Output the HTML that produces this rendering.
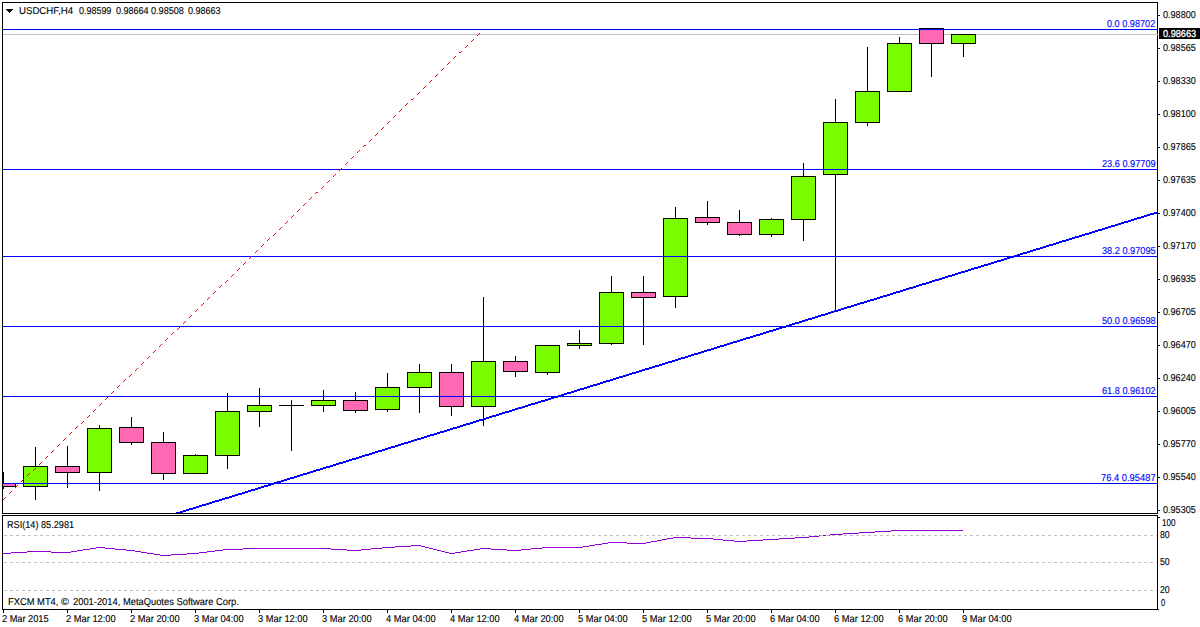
<!DOCTYPE html>
<html><head><meta charset="utf-8"><style>
html,body{margin:0;padding:0;background:#fff;width:1200px;height:627px;overflow:hidden}
body{position:relative;font-family:"Liberation Sans", sans-serif;line-height:1;white-space:pre}
.t{position:absolute;font-size:10px;transform-origin:0 0;text-rendering:geometricPrecision}
div{white-space:pre}
</style></head><body>
<svg width="1200" height="627" viewBox="0 0 1200 627" shape-rendering="crispEdges" style="position:absolute;left:0;top:0">
<defs><clipPath id="mc"><rect x="3" y="3" width="1154" height="510"/></clipPath><clipPath id="rc"><rect x="3" y="516" width="1154" height="93"/></clipPath></defs>
<rect x="2" y="2" width="1156" height="1" fill="#000"/>
<rect x="2" y="2" width="1" height="512" fill="#000"/>
<rect x="2" y="513" width="1156" height="1" fill="#000"/>
<rect x="1157" y="2" width="1" height="512" fill="#000"/>
<rect x="2" y="515" width="1156" height="1" fill="#000"/>
<rect x="2" y="515" width="1" height="95" fill="#000"/>
<rect x="2" y="609" width="1156" height="1" fill="#000"/>
<rect x="1157" y="515" width="1" height="95" fill="#000"/>
<g clip-path="url(#mc)">
<rect x="3" y="34" width="1154" height="1" fill="#C0C0C0"/>
<rect x="3" y="472" width="1" height="17" fill="#000"/>
<rect x="-9" y="483" width="25" height="4" fill="#000"/>
<rect x="-8" y="484" width="23" height="2" fill="#FF69B4"/>
<rect x="35" y="447" width="1" height="53" fill="#000"/>
<rect x="23" y="466" width="25" height="21" fill="#000"/>
<rect x="24" y="467" width="23" height="19" fill="#7CFC00"/>
<rect x="67" y="446" width="1" height="42" fill="#000"/>
<rect x="55" y="466" width="25" height="7" fill="#000"/>
<rect x="56" y="467" width="23" height="5" fill="#FF69B4"/>
<rect x="99" y="425" width="1" height="66" fill="#000"/>
<rect x="87" y="428" width="25" height="45" fill="#000"/>
<rect x="88" y="429" width="23" height="43" fill="#7CFC00"/>
<rect x="131" y="417" width="1" height="28" fill="#000"/>
<rect x="119" y="427" width="25" height="16" fill="#000"/>
<rect x="120" y="428" width="23" height="14" fill="#FF69B4"/>
<rect x="163" y="432" width="1" height="48" fill="#000"/>
<rect x="151" y="442" width="25" height="32" fill="#000"/>
<rect x="152" y="443" width="23" height="30" fill="#FF69B4"/>
<rect x="195" y="454" width="1" height="20" fill="#000"/>
<rect x="183" y="455" width="25" height="19" fill="#000"/>
<rect x="184" y="456" width="23" height="17" fill="#7CFC00"/>
<rect x="227" y="393" width="1" height="76" fill="#000"/>
<rect x="215" y="411" width="25" height="45" fill="#000"/>
<rect x="216" y="412" width="23" height="43" fill="#7CFC00"/>
<rect x="259" y="388" width="1" height="39" fill="#000"/>
<rect x="247" y="405" width="25" height="7" fill="#000"/>
<rect x="248" y="406" width="23" height="5" fill="#7CFC00"/>
<rect x="291" y="400" width="1" height="51" fill="#000"/>
<rect x="279" y="405" width="25" height="1" fill="#000"/>
<rect x="323" y="390" width="1" height="22" fill="#000"/>
<rect x="311" y="400" width="25" height="6" fill="#000"/>
<rect x="312" y="401" width="23" height="4" fill="#7CFC00"/>
<rect x="355" y="392" width="1" height="21" fill="#000"/>
<rect x="343" y="400" width="25" height="11" fill="#000"/>
<rect x="344" y="401" width="23" height="9" fill="#FF69B4"/>
<rect x="387" y="373" width="1" height="39" fill="#000"/>
<rect x="375" y="387" width="25" height="23" fill="#000"/>
<rect x="376" y="388" width="23" height="21" fill="#7CFC00"/>
<rect x="419" y="364" width="1" height="49" fill="#000"/>
<rect x="407" y="372" width="25" height="16" fill="#000"/>
<rect x="408" y="373" width="23" height="14" fill="#7CFC00"/>
<rect x="451" y="364" width="1" height="52" fill="#000"/>
<rect x="439" y="372" width="25" height="35" fill="#000"/>
<rect x="440" y="373" width="23" height="33" fill="#FF69B4"/>
<rect x="483" y="297" width="1" height="129" fill="#000"/>
<rect x="471" y="361" width="25" height="46" fill="#000"/>
<rect x="472" y="362" width="23" height="44" fill="#7CFC00"/>
<rect x="515" y="356" width="1" height="21" fill="#000"/>
<rect x="503" y="361" width="25" height="11" fill="#000"/>
<rect x="504" y="362" width="23" height="9" fill="#FF69B4"/>
<rect x="547" y="345" width="1" height="30" fill="#000"/>
<rect x="535" y="345" width="25" height="28" fill="#000"/>
<rect x="536" y="346" width="23" height="26" fill="#7CFC00"/>
<rect x="579" y="330" width="1" height="19" fill="#000"/>
<rect x="567" y="343" width="25" height="3" fill="#000"/>
<rect x="568" y="344" width="23" height="1" fill="#7CFC00"/>
<rect x="611" y="276" width="1" height="69" fill="#000"/>
<rect x="599" y="292" width="25" height="52" fill="#000"/>
<rect x="600" y="293" width="23" height="50" fill="#7CFC00"/>
<rect x="643" y="276" width="1" height="69" fill="#000"/>
<rect x="631" y="292" width="25" height="6" fill="#000"/>
<rect x="632" y="293" width="23" height="4" fill="#FF69B4"/>
<rect x="675" y="207" width="1" height="101" fill="#000"/>
<rect x="663" y="218" width="25" height="79" fill="#000"/>
<rect x="664" y="219" width="23" height="77" fill="#7CFC00"/>
<rect x="707" y="201" width="1" height="24" fill="#000"/>
<rect x="695" y="217" width="25" height="6" fill="#000"/>
<rect x="696" y="218" width="23" height="4" fill="#FF69B4"/>
<rect x="739" y="210" width="1" height="26" fill="#000"/>
<rect x="727" y="222" width="25" height="13" fill="#000"/>
<rect x="728" y="223" width="23" height="11" fill="#FF69B4"/>
<rect x="771" y="218" width="1" height="19" fill="#000"/>
<rect x="759" y="219" width="25" height="16" fill="#000"/>
<rect x="760" y="220" width="23" height="14" fill="#7CFC00"/>
<rect x="803" y="163" width="1" height="78" fill="#000"/>
<rect x="791" y="176" width="25" height="44" fill="#000"/>
<rect x="792" y="177" width="23" height="42" fill="#7CFC00"/>
<rect x="835" y="99" width="1" height="213" fill="#000"/>
<rect x="823" y="122" width="25" height="53" fill="#000"/>
<rect x="824" y="123" width="23" height="51" fill="#7CFC00"/>
<rect x="867" y="47" width="1" height="79" fill="#000"/>
<rect x="855" y="91" width="25" height="32" fill="#000"/>
<rect x="856" y="92" width="23" height="30" fill="#7CFC00"/>
<rect x="899" y="37" width="1" height="55" fill="#000"/>
<rect x="887" y="43" width="25" height="49" fill="#000"/>
<rect x="888" y="44" width="23" height="47" fill="#7CFC00"/>
<rect x="931" y="28" width="1" height="49" fill="#000"/>
<rect x="919" y="28" width="25" height="16" fill="#000"/>
<rect x="920" y="29" width="23" height="14" fill="#FF69B4"/>
<rect x="963" y="34" width="1" height="23" fill="#000"/>
<rect x="951" y="34" width="25" height="10" fill="#000"/>
<rect x="952" y="35" width="23" height="8" fill="#7CFC00"/>
<rect x="3" y="29" width="1154" height="1" fill="#0000FF"/>
<rect x="3" y="169" width="1154" height="1" fill="#0000FF"/>
<rect x="3" y="256" width="1154" height="1" fill="#0000FF"/>
<rect x="3" y="326" width="1154" height="1" fill="#0000FF"/>
<rect x="3" y="396" width="1154" height="1" fill="#0000FF"/>
<rect x="3" y="483" width="1154" height="1" fill="#0000FF"/>
<path d="M170 514h3v2h-3zM173 513h3v2h-3zM176 512h4v2h-4zM180 511h3v2h-3zM183 510h3v2h-3zM186 509h3v2h-3zM189 508h4v2h-4zM193 507h3v2h-3zM196 506h3v2h-3zM199 505h3v2h-3zM202 504h4v2h-4zM206 503h3v2h-3zM209 502h3v2h-3zM212 501h3v2h-3zM215 500h4v2h-4zM219 499h3v2h-3zM222 498h3v2h-3zM225 497h4v2h-4zM229 496h3v2h-3zM232 495h3v2h-3zM235 494h3v2h-3zM238 493h4v2h-4zM242 492h3v2h-3zM245 491h3v2h-3zM248 490h3v2h-3zM251 489h4v2h-4zM255 488h3v2h-3zM258 487h3v2h-3zM261 486h3v2h-3zM264 485h4v2h-4zM268 484h3v2h-3zM271 483h3v2h-3zM274 482h3v2h-3zM277 481h4v2h-4zM281 480h3v2h-3zM284 479h3v2h-3zM287 478h3v2h-3zM290 477h4v2h-4zM294 476h3v2h-3zM297 475h3v2h-3zM300 474h3v2h-3zM303 473h4v2h-4zM307 472h3v2h-3zM310 471h3v2h-3zM313 470h3v2h-3zM316 469h4v2h-4zM320 468h3v2h-3zM323 467h3v2h-3zM326 466h4v2h-4zM330 465h3v2h-3zM333 464h3v2h-3zM336 463h3v2h-3zM339 462h4v2h-4zM343 461h3v2h-3zM346 460h3v2h-3zM349 459h3v2h-3zM352 458h4v2h-4zM356 457h3v2h-3zM359 456h3v2h-3zM362 455h3v2h-3zM365 454h4v2h-4zM369 453h3v2h-3zM372 452h3v2h-3zM375 451h3v2h-3zM378 450h4v2h-4zM382 449h3v2h-3zM385 448h3v2h-3zM388 447h3v2h-3zM391 446h4v2h-4zM395 445h3v2h-3zM398 444h3v2h-3zM401 443h3v2h-3zM404 442h4v2h-4zM408 441h3v2h-3zM411 440h3v2h-3zM414 439h3v2h-3zM417 438h4v2h-4zM421 437h3v2h-3zM424 436h3v2h-3zM427 435h3v2h-3zM430 434h4v2h-4zM434 433h3v2h-3zM437 432h3v2h-3zM440 431h4v2h-4zM444 430h3v2h-3zM447 429h3v2h-3zM450 428h3v2h-3zM453 427h4v2h-4zM457 426h3v2h-3zM460 425h3v2h-3zM463 424h3v2h-3zM466 423h4v2h-4zM470 422h3v2h-3zM473 421h3v2h-3zM476 420h3v2h-3zM479 419h4v2h-4zM483 418h3v2h-3zM486 417h3v2h-3zM489 416h3v2h-3zM492 415h4v2h-4zM496 414h3v2h-3zM499 413h3v2h-3zM502 412h3v2h-3zM505 411h4v2h-4zM509 410h3v2h-3zM512 409h3v2h-3zM515 408h3v2h-3zM518 407h4v2h-4zM522 406h3v2h-3zM525 405h3v2h-3zM528 404h3v2h-3zM531 403h4v2h-4zM535 402h3v2h-3zM538 401h3v2h-3zM541 400h4v2h-4zM545 399h3v2h-3zM548 398h3v2h-3zM551 397h3v2h-3zM554 396h4v2h-4zM558 395h3v2h-3zM561 394h3v2h-3zM564 393h3v2h-3zM567 392h4v2h-4zM571 391h3v2h-3zM574 390h3v2h-3zM577 389h3v2h-3zM580 388h4v2h-4zM584 387h3v2h-3zM587 386h3v2h-3zM590 385h3v2h-3zM593 384h4v2h-4zM597 383h3v2h-3zM600 382h3v2h-3zM603 381h3v2h-3zM606 380h4v2h-4zM610 379h3v2h-3zM613 378h3v2h-3zM616 377h3v2h-3zM619 376h4v2h-4zM623 375h3v2h-3zM626 374h3v2h-3zM629 373h3v2h-3zM632 372h4v2h-4zM636 371h3v2h-3zM639 370h3v2h-3zM642 369h3v2h-3zM645 368h4v2h-4zM649 367h3v2h-3zM652 366h3v2h-3zM655 365h4v2h-4zM659 364h3v2h-3zM662 363h3v2h-3zM665 362h3v2h-3zM668 361h4v2h-4zM672 360h3v2h-3zM675 359h3v2h-3zM678 358h3v2h-3zM681 357h4v2h-4zM685 356h3v2h-3zM688 355h3v2h-3zM691 354h3v2h-3zM694 353h4v2h-4zM698 352h3v2h-3zM701 351h3v2h-3zM704 350h3v2h-3zM707 349h4v2h-4zM711 348h3v2h-3zM714 347h3v2h-3zM717 346h3v2h-3zM720 345h4v2h-4zM724 344h3v2h-3zM727 343h3v2h-3zM730 342h3v2h-3zM733 341h4v2h-4zM737 340h3v2h-3zM740 339h3v2h-3zM743 338h3v2h-3zM746 337h4v2h-4zM750 336h3v2h-3zM753 335h3v2h-3zM756 334h4v2h-4zM760 333h3v2h-3zM763 332h3v2h-3zM766 331h3v2h-3zM769 330h4v2h-4zM773 329h3v2h-3zM776 328h3v2h-3zM779 327h3v2h-3zM782 326h4v2h-4zM786 325h3v2h-3zM789 324h3v2h-3zM792 323h3v2h-3zM795 322h4v2h-4zM799 321h3v2h-3zM802 320h3v2h-3zM805 319h3v2h-3zM808 318h4v2h-4zM812 317h3v2h-3zM815 316h3v2h-3zM818 315h3v2h-3zM821 314h4v2h-4zM825 313h3v2h-3zM828 312h3v2h-3zM831 311h3v2h-3zM834 310h4v2h-4zM838 309h3v2h-3zM841 308h3v2h-3zM844 307h3v2h-3zM847 306h4v2h-4zM851 305h3v2h-3zM854 304h3v2h-3zM857 303h3v2h-3zM860 302h4v2h-4zM864 301h3v2h-3zM867 300h3v2h-3zM870 299h4v2h-4zM874 298h3v2h-3zM877 297h3v2h-3zM880 296h3v2h-3zM883 295h4v2h-4zM887 294h3v2h-3zM890 293h3v2h-3zM893 292h3v2h-3zM896 291h4v2h-4zM900 290h3v2h-3zM903 289h3v2h-3zM906 288h3v2h-3zM909 287h4v2h-4zM913 286h3v2h-3zM916 285h3v2h-3zM919 284h3v2h-3zM922 283h4v2h-4zM926 282h3v2h-3zM929 281h3v2h-3zM932 280h3v2h-3zM935 279h4v2h-4zM939 278h3v2h-3zM942 277h3v2h-3zM945 276h3v2h-3zM948 275h4v2h-4zM952 274h3v2h-3zM955 273h3v2h-3zM958 272h3v2h-3zM961 271h4v2h-4zM965 270h3v2h-3zM968 269h3v2h-3zM971 268h3v2h-3zM974 267h4v2h-4zM978 266h3v2h-3zM981 265h3v2h-3zM984 264h4v2h-4zM988 263h3v2h-3zM991 262h3v2h-3zM994 261h3v2h-3zM997 260h4v2h-4zM1001 259h3v2h-3zM1004 258h3v2h-3zM1007 257h3v2h-3zM1010 256h4v2h-4zM1014 255h3v2h-3zM1017 254h3v2h-3zM1020 253h3v2h-3zM1023 252h4v2h-4zM1027 251h3v2h-3zM1030 250h3v2h-3zM1033 249h3v2h-3zM1036 248h4v2h-4zM1040 247h3v2h-3zM1043 246h3v2h-3zM1046 245h3v2h-3zM1049 244h4v2h-4zM1053 243h3v2h-3zM1056 242h3v2h-3zM1059 241h3v2h-3zM1062 240h4v2h-4zM1066 239h3v2h-3zM1069 238h3v2h-3zM1072 237h3v2h-3zM1075 236h4v2h-4zM1079 235h3v2h-3zM1082 234h3v2h-3zM1085 233h4v2h-4zM1089 232h3v2h-3zM1092 231h3v2h-3zM1095 230h3v2h-3zM1098 229h4v2h-4zM1102 228h3v2h-3zM1105 227h3v2h-3zM1108 226h3v2h-3zM1111 225h4v2h-4zM1115 224h3v2h-3zM1118 223h3v2h-3zM1121 222h3v2h-3zM1124 221h4v2h-4zM1128 220h3v2h-3zM1131 219h3v2h-3zM1134 218h3v2h-3zM1137 217h4v2h-4zM1141 216h3v2h-3zM1144 215h3v2h-3zM1147 214h3v2h-3zM1150 213h4v2h-4zM1154 212h3v2h-3z" fill="#0000FF"/>
<path d="M3 499h1v1h-1zM4 498h1v1h-1zM5 497h1v1h-1zM9 493h1v1h-1zM10 492h1v1h-1zM11 491h1v1h-1zM15 487h1v1h-1zM16 486h1v1h-1zM17 485h1v1h-1zM21 481h1v1h-1zM22 480h1v1h-1zM23 479h1v1h-1zM27 475h1v1h-1zM28 474h1v1h-1zM29 473h1v1h-1zM33 470h1v1h-1zM34 469h1v1h-1zM35 468h1v1h-1zM39 464h1v1h-1zM40 463h1v1h-1zM41 462h1v1h-1zM45 458h1v1h-1zM46 457h1v1h-1zM47 456h1v1h-1zM51 452h1v1h-1zM52 451h1v1h-1zM53 450h1v1h-1zM57 446h1v1h-1zM58 445h1v1h-1zM59 444h1v1h-1zM63 440h1v1h-1zM64 439h1v1h-1zM65 438h1v1h-1zM69 434h1v1h-1zM70 433h1v1h-1zM71 432h1v1h-1zM75 428h1v1h-1zM76 427h1v1h-1zM77 426h1v1h-1zM81 423h1v1h-1zM82 422h1v1h-1zM83 421h1v1h-1zM87 417h1v1h-1zM88 416h1v1h-1zM89 415h1v1h-1zM93 411h1v1h-1zM94 410h1v1h-1zM95 409h1v1h-1zM99 405h1v1h-1zM100 404h1v1h-1zM101 403h1v1h-1zM105 399h1v1h-1zM106 398h1v1h-1zM107 397h1v1h-1zM111 393h1v1h-1zM112 392h1v1h-1zM113 391h1v1h-1zM117 387h1v1h-1zM118 386h1v1h-1zM119 385h1v1h-1zM123 381h1v1h-1zM124 380h1v1h-1zM125 379h1v1h-1zM129 376h1v1h-1zM130 375h1v1h-1zM131 374h1v1h-1zM135 370h1v1h-1zM136 369h1v1h-1zM137 368h1v1h-1zM141 364h1v1h-1zM142 363h1v1h-1zM143 362h1v1h-1zM147 358h1v1h-1zM148 357h1v1h-1zM149 356h1v1h-1zM153 352h1v1h-1zM154 351h1v1h-1zM155 350h1v1h-1zM159 346h1v1h-1zM160 345h1v1h-1zM161 344h1v1h-1zM165 340h1v1h-1zM166 339h1v1h-1zM167 338h1v1h-1zM171 334h1v1h-1zM172 333h1v1h-1zM173 332h1v1h-1zM177 329h1v1h-1zM178 328h1v1h-1zM179 327h1v1h-1zM183 323h1v1h-1zM184 322h1v1h-1zM185 321h1v1h-1zM189 317h1v1h-1zM190 316h1v1h-1zM191 315h1v1h-1zM195 311h1v1h-1zM196 310h1v1h-1zM197 309h1v1h-1zM201 305h1v1h-1zM202 304h1v1h-1zM203 303h1v1h-1zM207 299h1v1h-1zM208 298h1v1h-1zM209 297h1v1h-1zM213 293h1v1h-1zM214 292h1v1h-1zM215 291h1v1h-1zM219 287h1v1h-1zM220 286h1v1h-1zM221 285h1v1h-1zM225 282h1v1h-1zM226 281h1v1h-1zM227 280h1v1h-1zM231 276h1v1h-1zM232 275h1v1h-1zM233 274h1v1h-1zM237 270h1v1h-1zM238 269h1v1h-1zM239 268h1v1h-1zM243 264h1v1h-1zM244 263h1v1h-1zM245 262h1v1h-1zM249 258h1v1h-1zM250 257h1v1h-1zM251 256h1v1h-1zM255 252h1v1h-1zM256 251h1v1h-1zM257 250h1v1h-1zM261 246h1v1h-1zM262 245h1v1h-1zM263 244h1v1h-1zM267 240h1v1h-1zM268 239h1v1h-1zM269 238h1v1h-1zM273 235h1v1h-1zM274 234h1v1h-1zM275 233h1v1h-1zM279 229h1v1h-1zM280 228h1v1h-1zM281 227h1v1h-1zM285 223h1v1h-1zM286 222h1v1h-1zM287 221h1v1h-1zM291 217h1v1h-1zM292 216h1v1h-1zM293 215h1v1h-1zM297 211h1v1h-1zM298 210h1v1h-1zM299 209h1v1h-1zM303 205h1v1h-1zM304 204h1v1h-1zM305 203h1v1h-1zM309 199h1v1h-1zM310 198h1v1h-1zM311 197h1v1h-1zM315 193h1v1h-1zM316 192h1v1h-1zM317 192h1v1h-1zM321 188h1v1h-1zM322 187h1v1h-1zM323 186h1v1h-1zM327 182h1v1h-1zM328 181h1v1h-1zM329 180h1v1h-1zM333 176h1v1h-1zM334 175h1v1h-1zM335 174h1v1h-1zM339 170h1v1h-1zM340 169h1v1h-1zM341 168h1v1h-1zM345 164h1v1h-1zM346 163h1v1h-1zM347 162h1v1h-1zM351 158h1v1h-1zM352 157h1v1h-1zM353 156h1v1h-1zM357 152h1v1h-1zM358 151h1v1h-1zM359 150h1v1h-1zM363 146h1v1h-1zM364 145h1v1h-1zM365 145h1v1h-1zM369 141h1v1h-1zM370 140h1v1h-1zM371 139h1v1h-1zM375 135h1v1h-1zM376 134h1v1h-1zM377 133h1v1h-1zM381 129h1v1h-1zM382 128h1v1h-1zM383 127h1v1h-1zM387 123h1v1h-1zM388 122h1v1h-1zM389 121h1v1h-1zM393 117h1v1h-1zM394 116h1v1h-1zM395 115h1v1h-1zM399 111h1v1h-1zM400 110h1v1h-1zM401 109h1v1h-1zM405 105h1v1h-1zM406 104h1v1h-1zM407 103h1v1h-1zM411 99h1v1h-1zM412 99h1v1h-1zM413 98h1v1h-1zM417 94h1v1h-1zM418 93h1v1h-1zM419 92h1v1h-1zM423 88h1v1h-1zM424 87h1v1h-1zM425 86h1v1h-1zM429 82h1v1h-1zM430 81h1v1h-1zM431 80h1v1h-1zM435 76h1v1h-1zM436 75h1v1h-1zM437 74h1v1h-1zM441 70h1v1h-1zM442 69h1v1h-1zM443 68h1v1h-1zM447 64h1v1h-1zM448 63h1v1h-1zM449 62h1v1h-1zM453 58h1v1h-1zM454 57h1v1h-1zM455 56h1v1h-1zM459 52h1v1h-1zM460 52h1v1h-1zM461 51h1v1h-1zM465 47h1v1h-1zM466 46h1v1h-1zM467 45h1v1h-1zM471 41h1v1h-1zM472 40h1v1h-1zM473 39h1v1h-1zM477 35h1v1h-1zM478 34h1v1h-1zM479 33h1v1h-1z" fill="#FF0000"/>
</g>
<g clip-path="url(#rc)">
<path d="M3 553h8v1h-8zM11 552h16v1h-16zM27 551h24v1h-24zM51 552h20v1h-20zM71 551h6v1h-6zM77 550h6v1h-6zM83 549h7v1h-7zM90 548h6v1h-6zM96 547h9v1h-9zM105 548h10v1h-10zM115 549h11v1h-11zM126 550h9v1h-9zM135 551h6v1h-6zM141 552h6v1h-6zM147 553h7v1h-7zM154 554h6v1h-6zM160 555h11v1h-11zM171 554h16v1h-16zM187 553h12v1h-12zM199 552h8v1h-8zM207 551h8v1h-8zM215 550h8v1h-8zM223 549h20v1h-20zM243 548h88v1h-88zM331 549h16v1h-16zM347 550h14v1h-14zM361 549h10v1h-10zM371 548h11v1h-11zM382 547h13v1h-13zM395 546h16v1h-16zM411 545h10v1h-10zM421 546h4v1h-4zM425 547h4v1h-4zM429 548h4v1h-4zM433 549h4v1h-4zM437 550h4v1h-4zM441 551h4v1h-4zM445 552h4v1h-4zM449 553h6v1h-6zM455 552h6v1h-6zM461 551h6v1h-6zM467 550h7v1h-7zM474 549h6v1h-6zM480 548h11v1h-11zM491 549h16v1h-16zM507 550h14v1h-14zM521 549h10v1h-10zM531 548h11v1h-11zM542 547h41v1h-41zM583 546h6v1h-6zM589 545h6v1h-6zM595 544h7v1h-7zM602 543h6v1h-6zM608 542h19v1h-19zM627 543h19v1h-19zM646 542h5v1h-5zM651 541h6v1h-6zM657 540h5v1h-5zM662 539h5v1h-5zM667 538h6v1h-6zM673 537h18v1h-18zM691 538h22v1h-22zM713 539h10v1h-10zM723 540h11v1h-11zM734 541h13v1h-13zM747 540h16v1h-16zM763 539h16v1h-16zM779 538h16v1h-16zM795 537h14v1h-14zM809 536h10v1h-10zM819 535h11v1h-11zM830 534h13v1h-13zM843 533h16v1h-16zM859 532h16v1h-16zM875 531h16v1h-16zM891 530h72v1h-72z" fill="#9400D3"/>
<line x1="4" y1="535.5" x2="1157" y2="535.5" stroke="#C0C0C0" stroke-width="1" stroke-dasharray="3 3"/>
<line x1="4" y1="562.5" x2="1157" y2="562.5" stroke="#C0C0C0" stroke-width="1" stroke-dasharray="3 3"/>
<line x1="4" y1="590.5" x2="1157" y2="590.5" stroke="#C0C0C0" stroke-width="1" stroke-dasharray="3 3"/>
</g>
<rect x="1158" y="15" width="2" height="1" fill="#000"/>
<rect x="1158" y="48" width="2" height="1" fill="#000"/>
<rect x="1158" y="81" width="2" height="1" fill="#000"/>
<rect x="1158" y="114" width="2" height="1" fill="#000"/>
<rect x="1158" y="147" width="2" height="1" fill="#000"/>
<rect x="1158" y="180" width="2" height="1" fill="#000"/>
<rect x="1158" y="213" width="2" height="1" fill="#000"/>
<rect x="1158" y="246" width="2" height="1" fill="#000"/>
<rect x="1158" y="279" width="2" height="1" fill="#000"/>
<rect x="1158" y="312" width="2" height="1" fill="#000"/>
<rect x="1158" y="345" width="2" height="1" fill="#000"/>
<rect x="1158" y="378" width="2" height="1" fill="#000"/>
<rect x="1158" y="411" width="2" height="1" fill="#000"/>
<rect x="1158" y="444" width="2" height="1" fill="#000"/>
<rect x="1158" y="477" width="2" height="1" fill="#000"/>
<rect x="1158" y="510" width="2" height="1" fill="#000"/>
<rect x="1158" y="517" width="2" height="1" fill="#000"/>
<rect x="1158" y="609" width="1" height="1" fill="#000"/>
<rect x="3" y="610" width="1" height="3" fill="#000"/>
<rect x="67" y="610" width="1" height="3" fill="#000"/>
<rect x="131" y="610" width="1" height="3" fill="#000"/>
<rect x="195" y="610" width="1" height="3" fill="#000"/>
<rect x="259" y="610" width="1" height="3" fill="#000"/>
<rect x="323" y="610" width="1" height="3" fill="#000"/>
<rect x="387" y="610" width="1" height="3" fill="#000"/>
<rect x="451" y="610" width="1" height="3" fill="#000"/>
<rect x="515" y="610" width="1" height="3" fill="#000"/>
<rect x="579" y="610" width="1" height="3" fill="#000"/>
<rect x="643" y="610" width="1" height="3" fill="#000"/>
<rect x="707" y="610" width="1" height="3" fill="#000"/>
<rect x="771" y="610" width="1" height="3" fill="#000"/>
<rect x="835" y="610" width="1" height="3" fill="#000"/>
<rect x="899" y="610" width="1" height="3" fill="#000"/>
<rect x="963" y="610" width="1" height="3" fill="#000"/>
<rect x="1159" y="28" width="41" height="11" fill="#000"/>
<rect x="6" y="9" width="7" height="1" fill="#000"/>
<rect x="7" y="10" width="5" height="1" fill="#000"/>
<rect x="8" y="11" width="3" height="1" fill="#000"/>
<rect x="9" y="12" width="1" height="1" fill="#000"/>
<rect x="1157" y="34" width="1" height="1" fill="#C0C0C0"/>
</svg>
<div class="t" style="left:18.50px;top:7px;color:#000;transform:scaleX(0.9643);-webkit-text-stroke:0.12px #000">USDCHF,H4</div>
<div class="t" style="left:79.00px;top:7px;color:#000;transform:scaleX(0.8944);-webkit-text-stroke:0.12px #000">0.98599</div>
<div class="t" style="left:115.50px;top:7px;color:#000;transform:scaleX(0.9028);-webkit-text-stroke:0.12px #000">0.98664</div>
<div class="t" style="left:151.20px;top:7px;color:#000;transform:scaleX(0.9111);-webkit-text-stroke:0.12px #000">0.98508</div>
<div class="t" style="left:187.50px;top:7px;color:#000;transform:scaleX(0.9028);-webkit-text-stroke:0.12px #000">0.98663</div>
<div class="t" style="left:1163.00px;top:11px;color:#000;transform:scaleX(0.9056);-webkit-text-stroke:0.12px #000">0.98800</div>
<div class="t" style="left:1163.00px;top:44px;color:#000;transform:scaleX(0.9056);-webkit-text-stroke:0.12px #000">0.98565</div>
<div class="t" style="left:1163.00px;top:77px;color:#000;transform:scaleX(0.9056);-webkit-text-stroke:0.12px #000">0.98330</div>
<div class="t" style="left:1163.00px;top:110px;color:#000;transform:scaleX(0.9056);-webkit-text-stroke:0.12px #000">0.98100</div>
<div class="t" style="left:1163.00px;top:143px;color:#000;transform:scaleX(0.9056);-webkit-text-stroke:0.12px #000">0.97865</div>
<div class="t" style="left:1163.00px;top:176px;color:#000;transform:scaleX(0.9056);-webkit-text-stroke:0.12px #000">0.97635</div>
<div class="t" style="left:1163.00px;top:209px;color:#000;transform:scaleX(0.9056);-webkit-text-stroke:0.12px #000">0.97400</div>
<div class="t" style="left:1163.00px;top:242px;color:#000;transform:scaleX(0.9056);-webkit-text-stroke:0.12px #000">0.97170</div>
<div class="t" style="left:1163.00px;top:275px;color:#000;transform:scaleX(0.9056);-webkit-text-stroke:0.12px #000">0.96935</div>
<div class="t" style="left:1163.00px;top:308px;color:#000;transform:scaleX(0.9056);-webkit-text-stroke:0.12px #000">0.96705</div>
<div class="t" style="left:1163.00px;top:341px;color:#000;transform:scaleX(0.9056);-webkit-text-stroke:0.12px #000">0.96470</div>
<div class="t" style="left:1163.00px;top:374px;color:#000;transform:scaleX(0.9056);-webkit-text-stroke:0.12px #000">0.96240</div>
<div class="t" style="left:1163.00px;top:407px;color:#000;transform:scaleX(0.9056);-webkit-text-stroke:0.12px #000">0.96005</div>
<div class="t" style="left:1163.00px;top:440px;color:#000;transform:scaleX(0.9056);-webkit-text-stroke:0.12px #000">0.95770</div>
<div class="t" style="left:1163.00px;top:473px;color:#000;transform:scaleX(0.9056);-webkit-text-stroke:0.12px #000">0.95540</div>
<div class="t" style="left:1163.00px;top:506px;color:#000;transform:scaleX(0.9056);-webkit-text-stroke:0.12px #000">0.95305</div>
<div class="t" style="left:1163.00px;top:30px;color:#fff;transform:scaleX(0.9167);-webkit-text-stroke:0.3px #fff">0.98663</div>
<div class="t" style="left:1107.20px;top:20px;color:#0000FF;transform:scaleX(0.9132);-webkit-text-stroke:0.12px #0000FF">0.0 0.98702</div>
<div class="t" style="left:1102.30px;top:160px;color:#0000FF;transform:scaleX(0.9190);-webkit-text-stroke:0.12px #0000FF">23.6 0.97709</div>
<div class="t" style="left:1102.30px;top:247px;color:#0000FF;transform:scaleX(0.9190);-webkit-text-stroke:0.12px #0000FF">38.2 0.97095</div>
<div class="t" style="left:1102.30px;top:317px;color:#0000FF;transform:scaleX(0.9190);-webkit-text-stroke:0.12px #0000FF">50.0 0.96598</div>
<div class="t" style="left:1102.30px;top:387px;color:#0000FF;transform:scaleX(0.9190);-webkit-text-stroke:0.12px #0000FF">61.8 0.96102</div>
<div class="t" style="left:1101.36px;top:474px;color:#0000FF;transform:scaleX(0.9351);-webkit-text-stroke:0.12px #0000FF">76.4 0.95487</div>
<div class="t" style="left:7.30px;top:521px;color:#000;transform:scaleX(0.9137);-webkit-text-stroke:0.12px #000">RSI(14) 85.2981</div>
<div class="t" style="left:7.70px;top:598px;color:#000;transform:scaleX(0.9358);-webkit-text-stroke:0.12px #000">FXCM MT4,</div>
<div class="t" style="left:61.00px;top:598px;color:#000;transform:scaleX(1.0625);-webkit-text-stroke:0.12px #000">©</div>
<div class="t" style="left:72.50px;top:598px;color:#000;transform:scaleX(0.9350);-webkit-text-stroke:0.12px #000">2001-2014, MetaQuotes Software Corp.</div>
<div class="t" style="left:1161.50px;top:519px;color:#000;transform:scaleX(0.8176);-webkit-text-stroke:0.12px #000">100</div>
<div class="t" style="left:1160.00px;top:531px;color:#000;transform:scaleX(0.8727);-webkit-text-stroke:0.12px #000">80</div>
<div class="t" style="left:1160.00px;top:558px;color:#000;transform:scaleX(0.8727);-webkit-text-stroke:0.12px #000">50</div>
<div class="t" style="left:1160.00px;top:586px;color:#000;transform:scaleX(0.8727);-webkit-text-stroke:0.12px #000">20</div>
<div class="t" style="left:1161.00px;top:599px;color:#000;transform:scaleX(0.7500);-webkit-text-stroke:0.12px #000">0</div>
<div class="t" style="left:2.00px;top:615px;color:#000;transform:scaleX(0.9216);-webkit-text-stroke:0.12px #000">2 Mar 2015</div>
<div class="t" style="left:66.00px;top:615px;color:#000;transform:scaleX(0.9315);-webkit-text-stroke:0.12px #000">2 Mar 12:00</div>
<div class="t" style="left:130.00px;top:615px;color:#000;transform:scaleX(0.9315);-webkit-text-stroke:0.12px #000">2 Mar 20:00</div>
<div class="t" style="left:194.00px;top:615px;color:#000;transform:scaleX(0.9315);-webkit-text-stroke:0.12px #000">3 Mar 04:00</div>
<div class="t" style="left:258.00px;top:615px;color:#000;transform:scaleX(0.9315);-webkit-text-stroke:0.12px #000">3 Mar 12:00</div>
<div class="t" style="left:322.00px;top:615px;color:#000;transform:scaleX(0.9315);-webkit-text-stroke:0.12px #000">3 Mar 20:00</div>
<div class="t" style="left:386.00px;top:615px;color:#000;transform:scaleX(0.9315);-webkit-text-stroke:0.12px #000">4 Mar 04:00</div>
<div class="t" style="left:450.00px;top:615px;color:#000;transform:scaleX(0.9315);-webkit-text-stroke:0.12px #000">4 Mar 12:00</div>
<div class="t" style="left:514.00px;top:615px;color:#000;transform:scaleX(0.9315);-webkit-text-stroke:0.12px #000">4 Mar 20:00</div>
<div class="t" style="left:578.00px;top:615px;color:#000;transform:scaleX(0.9315);-webkit-text-stroke:0.12px #000">5 Mar 04:00</div>
<div class="t" style="left:642.00px;top:615px;color:#000;transform:scaleX(0.9315);-webkit-text-stroke:0.12px #000">5 Mar 12:00</div>
<div class="t" style="left:706.00px;top:615px;color:#000;transform:scaleX(0.9315);-webkit-text-stroke:0.12px #000">5 Mar 20:00</div>
<div class="t" style="left:770.00px;top:615px;color:#000;transform:scaleX(0.9315);-webkit-text-stroke:0.12px #000">6 Mar 04:00</div>
<div class="t" style="left:834.00px;top:615px;color:#000;transform:scaleX(0.9315);-webkit-text-stroke:0.12px #000">6 Mar 12:00</div>
<div class="t" style="left:898.00px;top:615px;color:#000;transform:scaleX(0.9315);-webkit-text-stroke:0.12px #000">6 Mar 20:00</div>
<div class="t" style="left:962.00px;top:615px;color:#000;transform:scaleX(0.9315);-webkit-text-stroke:0.12px #000">9 Mar 04:00</div>
</body></html>
